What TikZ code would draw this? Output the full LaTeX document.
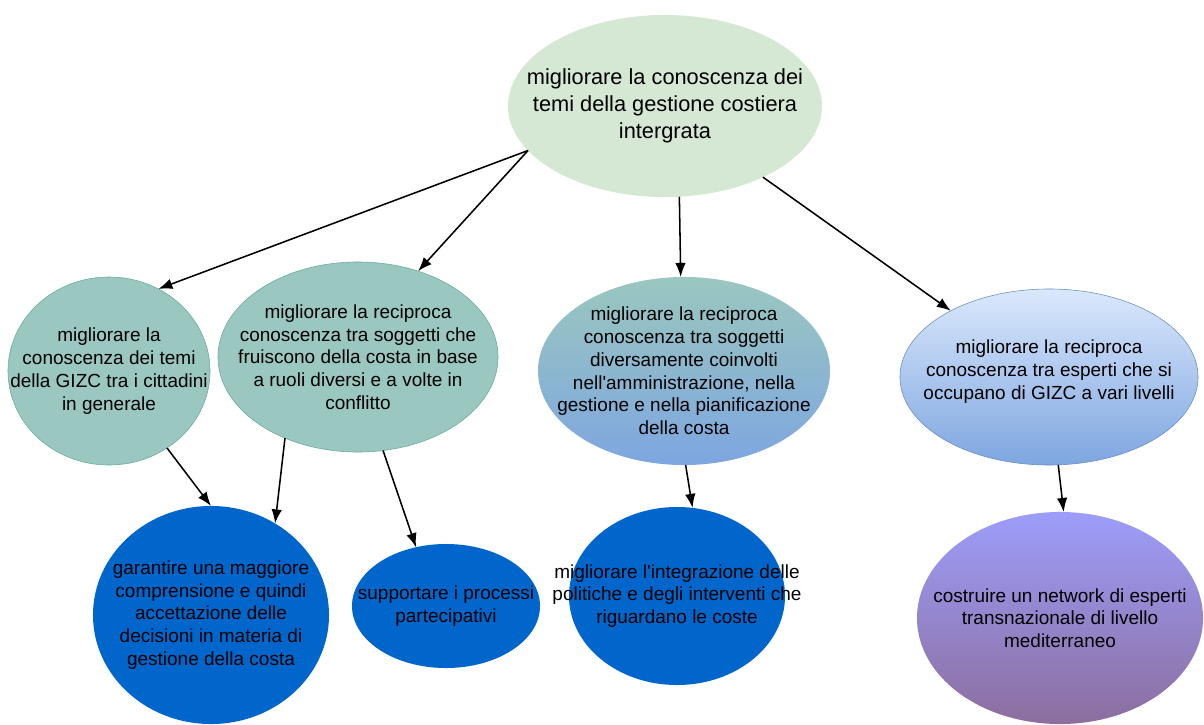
\documentclass[tikz,border=0pt]{standalone}
\usepackage{fontspec}
\setmainfont{Liberation Sans}
\usetikzlibrary{shapes,arrows.meta}
\definecolor{verdino}{HTML}{D5E8D4}
\definecolor{acqua}{HTML}{9AC7BF}
\definecolor{acquascuro}{HTML}{67AB9F}
\definecolor{celeste}{HTML}{DAE8FC}
\definecolor{azzurro}{HTML}{7EA6E0}
\definecolor{azzurroscuro}{HTML}{6C8EBF}
\definecolor{blu}{HTML}{0066CC}
\definecolor{lilla}{HTML}{9D9DFA}
\definecolor{viola}{HTML}{8C6E9E}

\begin{document}
\begin{tikzpicture}[x=0.025cm,y=-0.025cm,
  bolla/.style={ellipse,inner sep=0pt,outer sep=0pt},
  testo/.style={align=center,font=\fontsize{13.5}{16.2}\selectfont},
  freccia/.style={-{Latex[length=10pt,width=7.5pt]},line width=1.1pt}]
  \useasboundingbox (0,0) rectangle (1204,724);
  \coordinate (T) at (665,106);
  \coordinate (A) at (109,371);
  \coordinate (B) at (358,357);
  \coordinate (C) at (684,371);
  \coordinate (D) at (1049,377);
  \coordinate (E) at (211,615);
  \coordinate (F) at (446,606);
  \coordinate (G) at (677,596);
  \coordinate (H) at (1060,618);

  % obiettivo generale
  \node[
    bolla,
    minimum width=7.85cm,
    minimum height=4.55cm,
    fill=verdino] at (T) (top) {};
  \node[testo,font=\fontsize{15.5}{19}\selectfont] at (T) (ttop)
    {migliorare la conoscenza dei\\temi della gestione costiera\\intergrata};

  % obiettivi specifici
  \node[
    bolla,
    minimum width=5.05cm,
    minimum height=4.7cm,
    fill=acqua,
    draw=acquascuro] at (A) (a) {};
  \node[testo] at (A) (ta)
    {migliorare la\\conoscenza dei temi\\della GIZC tra i cittadini\\in generale};
  \node[
    bolla,
    minimum width=7cm,
    minimum height=4.75cm,
    fill=acqua,
    draw=acquascuro] at (B) (b) {};
  \node[testo] at (B) (tb)
    {migliorare la reciproca\\conoscenza tra soggetti che\\fruiscono della costa in base\\a ruoli diversi e a volte in\\conflitto};
  \node[
    bolla,
    minimum width=7.3cm,
    minimum height=4.7cm,
    top color=acqua,
    bottom color=azzurro] at (C) (c) {};
  \node[testo] at (C) (tc)
    {migliorare la reciproca\\conoscenza tra soggetti\\diversamente coinvolti\\nell\textquotesingle amministrazione, nella\\gestione e nella pianificazione\\della costa};
  \node[
    bolla,
    minimum width=7.45cm,
    minimum height=4.4cm,
    top color=celeste,
    bottom color=azzurro,
    draw=azzurroscuro] at (D) (d) {};
  \node[testo,yshift=4pt] at (D) (td)
    {migliorare la reciproca\\conoscenza tra esperti che si\\occupano di GIZC a vari livelli};

  % risultati attesi
  \node[
    bolla,
    minimum width=5.9cm,
    minimum height=5.45cm,
    fill=blu] at (E) (e) {};
  \node[testo] at (E) (te)
    {garantire una maggiore\\comprensione e quindi\\accettazione delle\\decisioni in materia di\\gestione della costa};
  \node[
    bolla,
    minimum width=4.7cm,
    minimum height=3.1cm,
    fill=blu] at (F) (f) {};
  \node[testo] at (F) (tf) {supportare i processi\\partecipativi};
  \node[
    bolla,
    minimum width=5.4cm,
    minimum height=4.45cm,
    fill=blu] at (G) (g) {};
  \node[testo] at (G) (tg)
    {migliorare l\textquotesingle integrazione delle\\politiche e degli interventi che\\riguardano le coste};
  \node[
    bolla,
    minimum width=7.15cm,
    minimum height=5.3cm,
    top color=lilla,
    bottom color=viola] at (H) (h) {};
  \node[testo] at (H) (th)
    {costruire un network di esperti\\transnazionale di livello\\mediterraneo};

  \draw[freccia] (top.198) -- (a.59);
  \draw[freccia] (top.198) -- (b.55);
  \draw[freccia] (top.-81) -- (c.92);
  \draw[freccia] (top.324) -- (d.146);
  \draw[freccia] (a.307) -- (e.90);
  \draw[freccia] (b.228) -- (e.55);
  \draw[freccia] (b.285) -- (f.117);
  \draw[freccia] (c.271) -- (g.80);
  \draw[freccia] (d.276) -- (h.88);

\end{tikzpicture}
\end{document}
